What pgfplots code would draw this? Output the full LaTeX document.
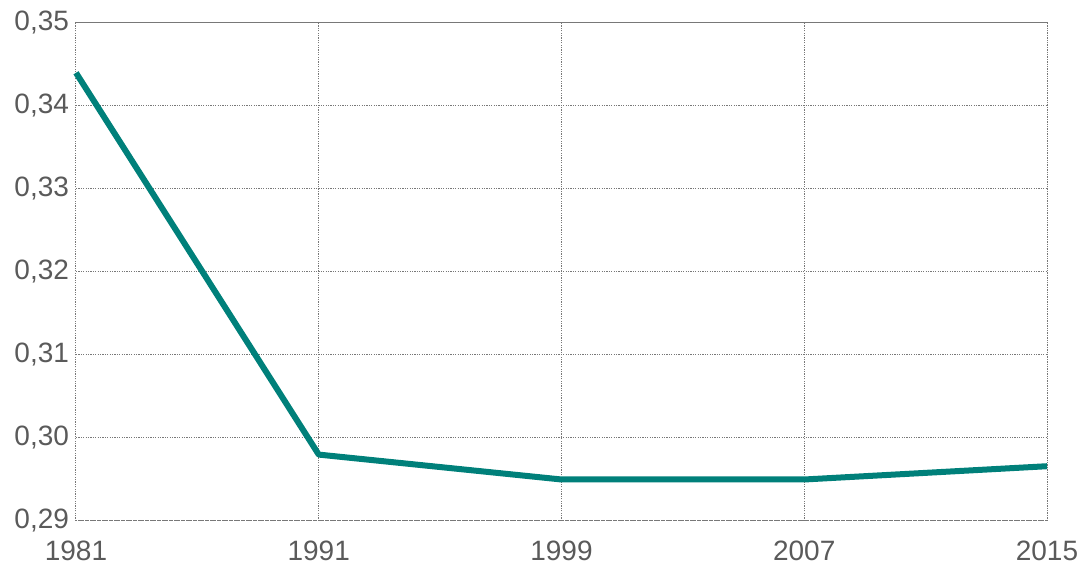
\documentclass[border=0pt]{standalone}
\usepackage{fontspec}
\setmainfont{Liberation Sans}
\usepackage{pgfplots}
\pgfplotsset{compat=1.18}
\definecolor{teal1}{RGB}{0,128,122}
\definecolor{lab}{RGB}{90,90,90}
\definecolor{grd}{RGB}{120,120,120}
\begin{document}
\begin{tikzpicture}
\begin{axis}[
  scale only axis,
  width=485.5pt, height=249pt,
  xmin=0, xmax=4, ymin=0.29, ymax=0.35,
  xtick={0,1,2,3,4},
  xticklabels={1981,1991,1999,2007,2015},
  ytick={0.29,0.30,0.31,0.32,0.33,0.34,0.35},
  yticklabels={{0,29},{0,30},{0,31},{0,32},{0,33},{0,34},{0,35}},
  grid=major,
  grid style={grd, line width=0.5pt, dash pattern=on 0.6pt off 0.6pt},
  axis line style={grd, line width=0.5pt, dash pattern=on 0.6pt off 0.6pt},
  major tick length=0pt,
  tick label style={font=\fontsize{14}{16}\selectfont, text=lab},
  xticklabel style={yshift=-6.5pt},
  yticklabel style={xshift=0pt},
  clip=false,
]
\addplot[teal1, line width=3pt, line join=round] coordinates {
  (0,0.3440) (1,0.2980) (2,0.2950) (3,0.2950) (4,0.2966)
};
\end{axis}
\pgfresetboundingbox
\path[use as bounding box] ([shift={(-38pt,-23pt)}]current axis.south west) rectangle ([shift={(18pt,11.5pt)}]current axis.north east);
\end{tikzpicture}
\end{document}
